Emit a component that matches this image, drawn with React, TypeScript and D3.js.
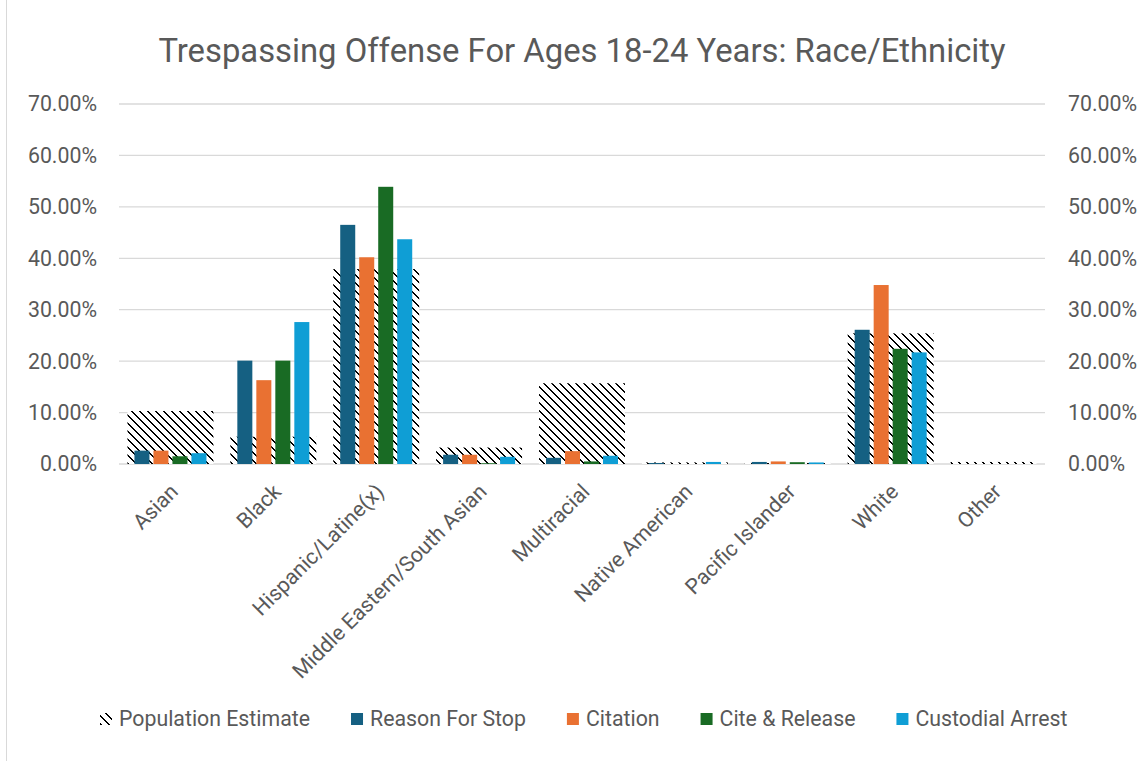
import React, { useEffect, useRef } from "react";
import * as d3 from "d3";

const categories = [
  "Asian",
  "Black",
  "Hispanic/Latine(x)",
  "Middle Eastern/South Asian",
  "Multiracial",
  "Native American",
  "Pacific Islander",
  "White",
  "Other",
];
const populationEstimate = [10.3, 5.3, 37.9, 3.2, 15.7, 0.3, 0.2, 25.4, 0.4];
const reasonForStop = [2.6, 20.1, 46.5, 1.8, 1.2, 0.2, 0.4, 26.1, 0];
const citation = [2.6, 16.3, 40.2, 1.8, 2.5, 0, 0.5, 34.8, 0];
const citeRelease = [1.5, 20.1, 53.9, 0.15, 0.5, 0, 0.35, 22.4, 0];
const custodialArrest = [2.1, 27.6, 43.7, 1.4, 1.6, 0.4, 0.3, 21.7, 0];
const yTicks = [0, 10, 20, 30, 40, 50, 60, 70];
const seriesNames = ["Reason For Stop", "Citation", "Cite & Release", "Custodial Arrest"];
const seriesValues = [reasonForStop, citation, citeRelease, custodialArrest];
const seriesColors = ["#156082", "#E97132", "#196B24", "#0F9ED5"];
const popName = "Population Estimate";
const title = "Trespassing Offense For Ages 18-24 Years: Race/Ethnicity";

const W = 1147;
const H = 761;
const FONT = "Roboto, 'Open Sans', sans-serif";
const TEXT = "#595959";
const FS = 21.3;

export default function App() {
  const ref = useRef<SVGSVGElement | null>(null);

  useEffect(() => {
    const svg = d3.select(ref.current);
    svg.selectAll("*").remove();

    const left = 119;
    const right = 1045;
    const top = 104;
    const bottom = 464;

    const x = d3.scaleBand<string>().domain(categories).range([left, right]).padding(0);
    const y = d3.scaleLinear().domain([0, 70]).range([bottom, top]);
    const inner = d3
      .scaleBand<string>()
      .domain(seriesNames)
      .range([-36, 36])
      .paddingInner(0.21)
      .paddingOuter(0);
    const popW = x.bandwidth() * 0.835;

    // pattern
    const defs = svg.append("defs");
    const pat = defs
      .append("pattern")
      .attr("id", "hatch")
      .attr("patternUnits", "userSpaceOnUse")
      .attr("width", 8)
      .attr("height", 8);
    pat.append("rect").attr("width", 8).attr("height", 8).attr("fill", "#fff");
    d3.range(8).forEach((i) => {
      pat
        .append("rect")
        .attr("x", i)
        .attr("y", i)
        .attr("width", 1)
        .attr("height", 1)
        .attr("fill", "#000")
        .attr("shape-rendering", "crispEdges");
      pat
        .append("rect")
        .attr("x", (i + 1) % 8)
        .attr("y", i)
        .attr("width", 1)
        .attr("height", 1)
        .attr("fill", "#000")
        .attr("shape-rendering", "crispEdges");
    });

    svg.append("rect").attr("width", W).attr("height", H).attr("fill", "#fff");
    svg
      .append("line")
      .attr("x1", 6.5)
      .attr("x2", 6.5)
      .attr("y1", 0)
      .attr("y2", H)
      .attr("stroke", "#D9D9D9")
      .attr("stroke-width", 1);

    // title
    svg
      .append("text")
      .attr("x", 582)
      .attr("y", 62)
      .attr("text-anchor", "middle")
      .attr("font-family", FONT)
      .attr("font-size", 32.8)
      .attr("fill", TEXT)
      .text(title);

    // gridlines
    svg
      .append("g")
      .selectAll("line")
      .data(yTicks)
      .join("line")
      .attr("x1", left)
      .attr("x2", right)
      .attr("y1", (d) => y(d))
      .attr("y2", (d) => y(d))
      .attr("stroke", "#D9D9D9")
      .attr("stroke-width", 1.3);

    const fmt = (d: number) => d3.format(".2f")(d) + "%";
    // y labels left
    svg
      .append("g")
      .selectAll("text")
      .data(yTicks)
      .join("text")
      .attr("x", 97)
      .attr("y", (d) => y(d))
      .attr("dy", "0.35em")
      .attr("text-anchor", "end")
      .attr("font-family", FONT)
      .attr("font-size", FS)
      .attr("fill", TEXT)
      .text(fmt);
    // y labels right
    svg
      .append("g")
      .selectAll("text")
      .data(yTicks)
      .join("text")
      .attr("x", 1068)
      .attr("y", (d) => y(d))
      .attr("dy", "0.35em")
      .attr("text-anchor", "start")
      .attr("font-family", FONT)
      .attr("font-size", FS)
      .attr("fill", TEXT)
      .text(fmt);

    // population bars
    svg
      .append("g")
      .selectAll("rect")
      .data(categories)
      .join("rect")
      .attr("x", (c) => (x(c) as number) + x.bandwidth() / 2 - popW / 2)
      .attr("width", popW)
      .attr("y", (c, i) => y(populationEstimate[i]))
      .attr("height", (c, i) => y(0) - y(populationEstimate[i]))
      .attr("fill", "url(#hatch)");

    // series bars
    seriesNames.forEach((s, si) => {
      svg
        .append("g")
        .selectAll("rect")
        .data(categories)
        .join("rect")
        .attr("x", (c) => (x(c) as number) + x.bandwidth() / 2 + (inner(s) as number))
        .attr("width", inner.bandwidth())
        .attr("y", (c, i) => y(seriesValues[si][i]))
        .attr("height", (c, i) => y(0) - y(seriesValues[si][i]))
        .attr("fill", seriesColors[si]);
    });

    // x labels
    svg
      .append("g")
      .selectAll("text")
      .data(categories)
      .join("text")
      .attr(
        "transform",
        (c) => `translate(${(x(c) as number) + x.bandwidth() / 2 + 9},${493}) rotate(-45)`
      )
      .attr("text-anchor", "end")
      .attr("font-family", FONT)
      .attr("font-size", FS)
      .attr("fill", TEXT)
      .text((c) => c);

    // legend
    const legendItems = [popName, ...seriesNames];
    const legendFills = ["url(#hatch)", ...seriesColors];
    const lg = svg.append("g");
    let cx = 100;
    const ly = 719;
    legendItems.forEach((name, i) => {
      lg.append("rect")
        .attr("x", cx)
        .attr("y", ly - 6)
        .attr("width", 12)
        .attr("height", 12)
        .attr("fill", legendFills[i]);
      const t = lg
        .append("text")
        .attr("x", cx + 19)
        .attr("y", ly)
        .attr("dy", "0.35em")
        .attr("font-family", FONT)
        .attr("font-size", FS)
        .attr("fill", TEXT)
        .text(name);
      const w = (t.node() as SVGTextElement).getComputedTextLength();
      cx = cx + 19 + w + 41;
    });
  }, []);

  return (
    <svg
      ref={ref}
      width={W}
      height={H}
      style={{ position: "absolute", left: 0, top: 0, display: "block" }}
    />
  );
}
